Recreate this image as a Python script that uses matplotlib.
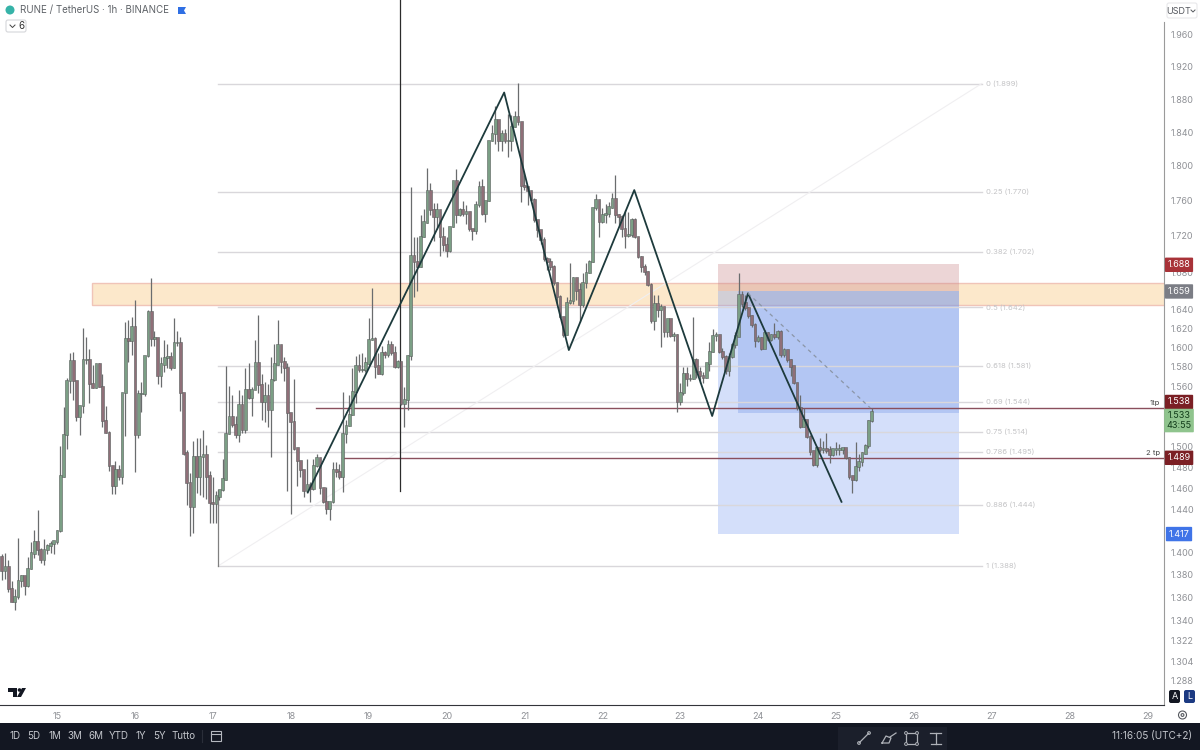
import matplotlib
matplotlib.use('Agg')
import matplotlib.pyplot as plt
from matplotlib.patches import Rectangle, FancyBboxPatch, Circle, Polygon
from matplotlib.ticker import NullFormatter

plt.rcParams['font.family'] = ['Inter', 'DejaVu Sans']

# hourly candles
first_open = 1.396
closes = [
1.383,1.387,1.367,1.356,1.360,1.374,1.379,1.370,1.385,1.399,1.409,1.402,1.393,1.402,1.406,1.408,1.410,1.420,1.471,1.511,
1.565,1.586,1.565,1.529,1.540,1.587,1.587,1.562,1.558,1.582,1.559,1.525,1.513,1.481,1.462,1.477,1.471,1.553,1.608,1.606,
1.621,1.511,1.552,1.552,1.591,1.637,1.609,1.609,1.570,1.582,1.589,1.590,1.579,1.604,1.604,1.553,1.493,1.465,1.442,1.490,
1.471,1.490,1.491,1.471,1.446,1.445,1.452,1.458,1.468,1.512,1.529,1.521,1.511,1.541,1.516,1.556,1.548,1.556,1.583,1.561,
1.544,1.550,1.536,1.566,1.582,1.602,1.585,1.578,1.533,1.524,1.498,1.486,1.477,1.457,1.463,1.459,1.481,1.489,1.460,1.447,
1.440,1.447,1.477,1.475,1.471,1.512,1.520,1.531,1.554,1.580,1.576,1.576,1.583,1.607,1.608,1.580,1.572,1.594,1.592,1.602,
1.594,1.580,1.585,1.542,1.546,1.591,1.698,1.691,1.686,1.719,1.735,1.771,1.749,1.741,1.749,1.719,1.710,1.703,1.730,1.782,
1.744,1.749,1.745,1.747,1.728,1.726,1.755,1.776,1.745,1.759,1.829,1.838,1.854,1.829,1.838,1.829,1.830,1.846,1.858,1.852,
1.777,1.776,1.771,1.761,1.738,1.727,1.715,1.694,1.691,1.686,1.668,1.653,1.632,1.613,1.647,1.649,1.673,1.660,1.644,1.668,
1.679,1.691,1.751,1.760,1.736,1.743,1.745,1.752,1.762,1.743,1.741,1.728,1.720,1.721,1.738,1.719,1.697,1.686,1.680,1.666,
1.627,1.645,1.639,1.642,1.616,1.629,1.612,1.613,1.544,1.553,1.572,1.567,1.567,1.587,1.574,1.570,1.568,1.583,1.595,1.612,
1.613,1.595,1.590,1.575,1.590,1.602,1.611,1.655,1.646,1.641,1.633,1.623,1.606,1.609,1.598,1.615,1.607,1.613,1.611,1.616,
1.592,1.597,1.587,1.580,1.563,1.538,1.519,1.526,1.509,1.495,1.482,1.498,1.497,1.497,1.496,1.492,1.497,1.497,1.497,1.498,
1.489,1.471,1.468,1.480,1.485,1.493,1.500,1.525,1.534]
highs = [
1.399,1.400,1.393,1.374,1.367,1.413,1.380,1.379,1.396,1.410,1.421,1.439,1.404,1.412,1.408,1.411,1.411,1.421,1.500,1.539,
1.568,1.594,1.595,1.565,1.540,1.620,1.611,1.598,1.582,1.582,1.584,1.572,1.540,1.515,1.481,1.486,1.482,1.553,1.626,1.628,
1.632,1.650,1.556,1.564,1.591,1.639,1.674,1.617,1.609,1.590,1.608,1.603,1.595,1.631,1.617,1.611,1.553,1.497,1.474,1.505,
1.508,1.508,1.516,1.501,1.476,1.471,1.457,1.458,1.488,1.581,1.560,1.551,1.530,1.556,1.551,1.578,1.584,1.559,1.608,1.634,
1.572,1.564,1.562,1.590,1.603,1.628,1.602,1.590,1.584,1.533,1.567,1.498,1.486,1.477,1.488,1.466,1.488,1.493,1.489,1.460,
1.461,1.447,1.485,1.485,1.483,1.554,1.526,1.551,1.578,1.591,1.593,1.594,1.590,1.631,1.663,1.611,1.594,1.601,1.596,1.608,
1.606,1.601,1.587,1.585,1.559,1.592,1.775,1.719,1.719,1.744,1.750,1.798,1.780,1.757,1.757,1.747,1.730,1.719,1.730,1.782,
1.796,1.751,1.759,1.755,1.747,1.728,1.759,1.782,1.785,1.759,1.829,1.848,1.871,1.854,1.843,1.844,1.862,1.861,1.865,1.900,
1.850,1.790,1.776,1.771,1.763,1.738,1.727,1.719,1.697,1.695,1.688,1.668,1.655,1.632,1.653,1.690,1.675,1.673,1.668,1.679,
1.690,1.693,1.751,1.768,1.761,1.752,1.756,1.758,1.769,1.790,1.745,1.743,1.749,1.747,1.740,1.740,1.719,1.698,1.689,1.681,
1.668,1.655,1.655,1.646,1.642,1.630,1.629,1.616,1.614,1.563,1.580,1.580,1.572,1.632,1.589,1.580,1.574,1.584,1.605,1.619,
1.616,1.611,1.599,1.592,1.594,1.604,1.616,1.679,1.660,1.655,1.642,1.634,1.625,1.613,1.611,1.618,1.616,1.614,1.625,1.618,
1.618,1.599,1.597,1.588,1.581,1.563,1.551,1.538,1.526,1.511,1.496,1.500,1.508,1.505,1.513,1.500,1.498,1.504,1.502,1.499,
1.497,1.490,1.471,1.504,1.493,1.495,1.502,1.526,1.538]
lows = [
1.375,1.376,1.365,1.356,1.349,1.358,1.369,1.362,1.369,1.385,1.395,1.398,1.391,1.389,1.399,1.400,1.399,1.408,1.419,1.471,
1.498,1.553,1.546,1.525,1.511,1.533,1.583,1.543,1.558,1.558,1.559,1.519,1.513,1.476,1.454,1.454,1.468,1.464,1.510,1.585,
1.592,1.475,1.508,1.534,1.550,1.590,1.601,1.601,1.562,1.559,1.574,1.579,1.576,1.579,1.601,1.535,1.492,1.444,1.415,1.418,
1.455,1.453,1.452,1.450,1.427,1.427,1.427,1.449,1.457,1.468,1.512,1.519,1.508,1.504,1.513,1.513,1.547,1.530,1.557,1.553,
1.526,1.524,1.519,1.490,1.565,1.582,1.573,1.565,1.457,1.436,1.497,1.462,1.471,1.452,1.455,1.447,1.458,1.480,1.454,1.446,
1.436,1.430,1.446,1.471,1.469,1.456,1.503,1.520,1.531,1.543,1.574,1.574,1.574,1.582,1.607,1.568,1.572,1.571,1.589,1.590,
1.592,1.578,1.579,1.541,1.519,1.536,1.587,1.653,1.660,1.686,1.719,1.735,1.744,1.714,1.728,1.698,1.703,1.697,1.702,1.730,
1.734,1.742,1.742,1.733,1.726,1.715,1.722,1.753,1.744,1.736,1.759,1.829,1.826,1.817,1.817,1.827,1.811,1.817,1.846,1.849,
1.758,1.772,1.755,1.759,1.736,1.719,1.711,1.692,1.682,1.682,1.666,1.646,1.631,1.611,1.613,1.646,1.646,1.650,1.626,1.642,
1.663,1.679,1.691,1.749,1.719,1.735,1.735,1.741,1.751,1.734,1.732,1.719,1.706,1.719,1.719,1.718,1.696,1.680,1.677,1.665,
1.625,1.618,1.632,1.600,1.611,1.611,1.611,1.606,1.534,1.541,1.551,1.560,1.565,1.567,1.568,1.563,1.563,1.568,1.575,1.595,
1.606,1.594,1.588,1.572,1.570,1.589,1.599,1.613,1.642,1.639,1.631,1.621,1.600,1.605,1.597,1.599,1.606,1.606,1.609,1.609,
1.590,1.590,1.585,1.570,1.562,1.536,1.518,1.519,1.508,1.492,1.481,1.480,1.495,1.494,1.494,1.484,1.491,1.492,1.492,1.493,
1.488,1.469,1.455,1.467,1.476,1.481,1.493,1.499,1.524]
opens = [first_open] + closes[:-1]
start_day = 15 - 17 / 24

day_ticks = list(range(15, 30))
price_ticks = [1.96,1.92,1.88,1.84,1.80,1.76,1.72,1.68,1.64,1.62,1.60,1.58,1.56,1.50,1.48,1.46,1.44,1.40,1.38,1.36,1.34,1.322,1.304,1.288]

fib_ratio = ['0','0.25','0.382','0.5','0.618','0.69','0.75','0.786','0.886','1']
fib_price = [1.899,1.770,1.702,1.642,1.581,1.544,1.514,1.495,1.444,1.388]

zig_x = [18.22,20.74,21.57,22.41,23.41,23.87,25.07]
zig_y = [1.456,1.888,1.597,1.772,1.530,1.657,1.447]

green = '#7b9f85'
red = '#8f6f78'
wick = '#6a6c6e'
grey = '#8f9196'

fig = plt.figure(figsize=(12, 7.5), dpi=100)
ax = fig.add_axes([0, 45/750, 1164/1200, 705/750])
ax.set_yscale('log')
ax.set_xlim(14.268, 29.21)
ax.set_ylim(1.268, 2.005)

# zone and long position boxes
ax.add_patch(Rectangle((15.45, 1.644), 14, 0.024, fc='#fce8cb', ec='#f0c4b8', lw=1, zorder=1))
ax.add_patch(Rectangle((23.485, 1.659), 3.095, 0.030, fc='#c9878c', alpha=0.35, ec='none', zorder=2))
ax.add_patch(Rectangle((23.485, 1.417), 3.095, 0.242, fc='#7c9df0', alpha=0.32, ec='none', zorder=2))
ax.add_patch(Rectangle((23.74, 1.533), 2.84, 0.126, fc='#6f93e6', alpha=0.32, ec='none', zorder=2))

# fib retracement
for r, p in zip(fib_ratio, fib_price):
    ax.plot([17.07, 26.87], [p, p], color='#d9d7db', lw=1, zorder=3)
    ax.text(26.925, p, '%s (%.3f)' % (r, p), color='#c4c4c6', fontsize=5.5, va='center', zorder=3)
ax.plot([17.07, 26.87], [1.388, 1.899], color='#f0eff1', lw=0.8, zorder=3)
ax.plot([17.07, 17.07], [1.388, 1.458], color='#808080', lw=0.9, zorder=3)

# take profit lines
ax.plot([18.32, 29.21], [1.538, 1.538], color='#8a4f5c', lw=1, zorder=4)
ax.plot([18.66, 29.21], [1.489, 1.489], color='#8a4f5c', lw=1, zorder=4)
ax.text(29.03, 1.543, '1tp', fontsize=5.5, color='#444444', va='center')
ax.text(28.98, 1.494, '2 tp', fontsize=5.5, color='#444444', va='center')

ax.plot([19.40, 19.40], [1.457, 2.005], color='#2b2b2b', lw=0.9, zorder=4)

# candles
t = [start_day + i / 24 for i in range(len(closes))]
cols = [green if c >= o else red for o, c in zip(opens, closes)]
ax.vlines(t, lows, highs, color=wick, lw=0.9, zorder=5)
ax.bar(t, [abs(c - o) + 0.0012 for o, c in zip(opens, closes)], bottom=[min(o, c) for o, c in zip(opens, closes)],
       width=0.035, color=cols, edgecolor='#5a5f5e', lw=0.4, zorder=6)

# hand drawn pattern
ax.plot(zig_x, zig_y, color='#1d3a3c', lw=1.3, zorder=7)
ax.plot([23.87, 25.44], [1.657, 1.538], color='#8b96a8', lw=0.9, ls=(0, (3, 3)), zorder=7)

for s in ['top', 'left']:
    ax.spines[s].set_visible(False)
ax.spines['right'].set_color('#9a9a9a')
ax.spines['right'].set_bounds(1.268, 1.976)
ax.spines['bottom'].set_color('#33353a')
ax.yaxis.tick_right()
ax.set_yticks(price_ticks)
ax.set_yticklabels(['%.3f' % p for p in price_ticks], fontsize=6.5, color=grey)
ax.minorticks_off()
ax.yaxis.set_minor_formatter(NullFormatter())
ax.tick_params(axis='y', length=0, pad=5)
ax.set_xticks(day_ticks)
ax.set_xticklabels(day_ticks, fontsize=6.5, color=grey)
ax.tick_params(axis='x', length=0, pad=5)

# price badges on the scale, 1.538 sits a little above its line as on the chart
badges = [(1.688, '1.688', '#a83238', 'white'), (1.659, '1.659', '#7b7d85', 'white'),
          (1.544, '1.538', '#7b1f24', 'white'), (1.489, '1.489', '#7b1f24', 'white'),
          (1.417, '1.417', '#3f74e8', 'white')]
for p, s, c, tc in badges:
    ax.text(1.0129, p, s, transform=ax.get_yaxis_transform(), fontsize=6.5, color=tc, ha='center', va='center', zorder=10,
            clip_on=False, bbox=dict(boxstyle='round,pad=0.3,rounding_size=0.1', fc=c, ec='none'))
ax.text(1.0129, 1.5255, '1.533\n43:55', transform=ax.get_yaxis_transform(), fontsize=6.5, color='#123d1a', ha='center',
        va='center', zorder=10, linespacing=1.15, clip_on=False,
        bbox=dict(boxstyle='round,pad=0.25,rounding_size=0.1', fc='#8fc48d', ec='none'))

# window chrome in pixel coordinates
ui = fig.add_axes([0, 0, 1, 1], facecolor='none')
ui.set_xlim(0, 1200)
ui.set_ylim(750, 0)
ui.axis('off')
ui.add_patch(Rectangle((0, 723), 1200, 27, fc='#131722', ec='none'))
ui.add_patch(Rectangle((838, 727), 109, 23, fc='#1b1f2b', ec='none'))

ui.text(20, 10, 'RUNE / TetherUS · 1h · BINANCE', fontsize=7, color='#5f6368', va='center')
ui.add_patch(Circle((10, 10), 4.5, fc='#36b3a8', ec='none'))
ui.add_patch(Polygon([(178, 7), (186, 7), (184, 10.5), (186, 14), (178, 14)], fc='#2f6fe4', ec='none'))
ui.add_patch(FancyBboxPatch((6, 20), 20, 12, boxstyle='round,pad=0,rounding_size=2', fc='white', ec='#d5d6da', lw=0.8))
ui.plot([10, 12.5, 15], [25, 27.5, 25], color='#444444', lw=0.7)
ui.text(21, 26, '6', fontsize=7, color='#333333', va='center', ha='center')
ui.add_patch(FancyBboxPatch((1167, 3), 30, 15, boxstyle='round,pad=0,rounding_size=2', fc='white', ec='#e8e8ea', lw=0.8))
ui.text(1179, 11, 'USDT', fontsize=6.5, color='#55585e', va='center', ha='center')
ui.plot([1191, 1193, 1195], [10, 12, 10], color='#55585e', lw=0.7)

# logo
ui.add_patch(Polygon([(8, 688), (17, 688), (17, 697), (13, 697), (13, 692), (8, 692)], fc='#131722', ec='none'))
ui.add_patch(Circle((19.5, 690), 1.8, fc='#131722', ec='none'))
ui.add_patch(Polygon([(22, 688), (26, 688), (21, 697), (17, 697)], fc='#131722', ec='none'))

# A / L buttons
ui.add_patch(FancyBboxPatch((1169, 690), 11, 13, boxstyle='round,pad=0,rounding_size=2', fc='#131722', ec='none'))
ui.add_patch(FancyBboxPatch((1184, 690), 11, 13, boxstyle='round,pad=0,rounding_size=2', fc='#1c3a82', ec='none'))
ui.text(1174.5, 696.5, 'A', fontsize=6.5, color='white', ha='center', va='center')
ui.text(1189.5, 696.5, 'L', fontsize=6.5, color='white', ha='center', va='center')
ui.add_patch(Circle((1182.5, 715), 4, fc='none', ec='#55585e', lw=0.8))
ui.add_patch(Circle((1182.5, 715), 1.4, fc='none', ec='#55585e', lw=0.8))

# bottom bar
ranges = ['1D', '5D', '1M', '3M', '6M', 'YTD', '1Y', '5Y', 'Tutto']
range_x = [15, 34, 55, 75, 96, 119, 141, 160, 184]
for s, x in zip(ranges, range_x):
    ui.text(x, 736, s, fontsize=7, color='#c3c6cc', ha='center', va='center')
ui.plot([202, 202], [730, 742], color='#2a2e39', lw=0.8)
ui.add_patch(Rectangle((211, 731), 10, 10, fc='none', ec='#b5b8bf', lw=0.8))
ui.plot([211, 221], [734, 734], color='#b5b8bf', lw=0.8)
ui.text(1192, 736, '11:16:05 (UTC+2)', fontsize=7.2, color='#c3c6cc', ha='right', va='center')

# drawing tools
ic = '#aeb1b8'
ui.plot([859, 869], [743, 733], color=ic, lw=0.9)
for p in [(859, 743), (869, 733)]:
    ui.add_patch(Circle(p, 1.4, fc='#1b1f2b', ec=ic, lw=0.7))
ui.plot([882, 886, 891, 889, 882], [743, 736, 738, 743, 743], color=ic, lw=0.9)
ui.plot([890, 896], [737, 733], color=ic, lw=0.9)
ui.add_patch(Rectangle((906, 733), 11, 11, fc='none', ec=ic, lw=0.9))
for p in [(906, 733), (917, 733), (906, 744), (917, 744)]:
    ui.add_patch(Circle(p, 1.4, fc='#1b1f2b', ec=ic, lw=0.7))
ui.plot([930, 941], [733, 733], color=ic, lw=0.9)
ui.plot([935.5, 935.5], [733, 744], color=ic, lw=0.9)
ui.plot([931, 941], [744, 744], color=ic, lw=0.9)

fig.savefig('out.png', dpi=100)
